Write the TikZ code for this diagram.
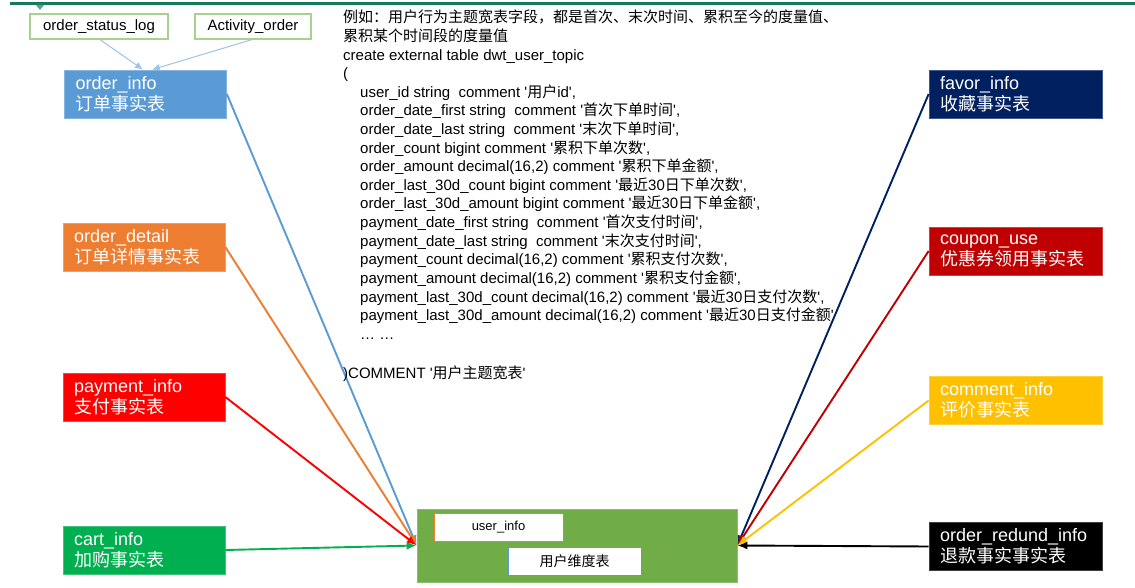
\documentclass[tikz,border=0pt]{standalone}
\usepackage{fontspec}
\setmainfont{Liberation Sans}
\newfontfamily\cjk{Noto Sans CJK SC}
\usetikzlibrary{arrows.meta}
\newcommand\zh[1]{{\cjk #1}}
\newcommand\sq{\textquotesingle}
\definecolor{cblue}{HTML}{5B9BD5}
\definecolor{corange}{HTML}{ED7D31}
\definecolor{cred}{HTML}{FF0000}
\definecolor{cgreen}{HTML}{00B050}
\definecolor{cnavy}{HTML}{002060}
\definecolor{cdred}{HTML}{C00000}
\definecolor{cgold}{HTML}{FFC000}
\definecolor{cmid}{HTML}{70AD47}
\definecolor{clgreen}{HTML}{A9D18E}
\definecolor{clblue}{HTML}{9DC3E6}
\definecolor{cteal}{HTML}{137A5C}
\begin{document}
\begin{tikzpicture}[x=1pt,y=-1pt,
  fact/.style={rectangle, fill=#1, draw=#1!75!white, line width=0.7pt, text=white,
    minimum height=48pt, align=left, inner sep=0pt,
    font=\fontsize{18}{21}\selectfont},
  lfact/.style={fact=#1, minimum width=162pt, text width=140pt},
  rfact/.style={fact=#1, minimum width=173pt, text width=151pt},
  srcbox/.style={rectangle, fill=white, draw=clgreen, line width=1.2pt,
    minimum height=25pt, inner sep=0pt, font=\fontsize{15}{18}\selectfont},
  code/.style={anchor=base west, inner sep=0pt, font=\fontsize{15}{18}\selectfont},
  conn/.style={line width=1.9pt, -{Latex[length=10pt,width=8pt]}},
  srcarrow/.style={line width=1pt, draw=clblue, -{Latex[length=8pt,width=7pt]}}
]
\useasboundingbox (0,0) rectangle (1135,588);
\fill[white] (0,0) rectangle (1135,588);

% top rule
\draw[line width=3pt, cteal] (10,4) -- (1135,4);
\fill[cteal!70!white] (36,5) -- (44,5) -- (40,10) -- cycle;

% source boxes
\node[srcbox, minimum width=138pt] (osl) at (99,26.5) {order\_status\_log};
\node[srcbox, minimum width=116pt] (ao) at (253,26.5) {Activity\_order};

% left fact tables
\node[lfact=cblue]   (oi) at (145.5,94)  {order\_info\\\zh{订单事实表}};
\node[lfact=corange] (od) at (144,247)   {order\_detail\\\zh{订单详情事实表}};
\node[lfact=cred]    (pi) at (144,397)   {payment\_info\\\zh{支付事实表}};
\node[lfact=cgreen]  (ci) at (144,550)   {cart\_info\\\zh{加购事实表}};

% right fact tables
\node[rfact=cnavy]  (fi) at (1015.5,94)    {favor\_info\\\zh{收藏事实表}};
\node[rfact=cdred]  (cu) at (1015.5,251)   {coupon\_use\\\zh{优惠券领用事实表}};
\node[rfact=cgold]  (cm) at (1015.5,400.5) {comment\_info\\\zh{评价事实表}};
\node[rfact=black]  (ri) at (1015.5,546.5) {order\_redund\_info\\\zh{退款事实事实表}};

% central dimension box
\node[rectangle, fill=cmid, draw=cmid!80!white, line width=0.7pt,
  minimum width=320pt, minimum height=73pt, inner sep=0pt] (ub) at (577,545.5) {};
\node[rectangle, fill=white, draw=corange, line width=1pt, minimum width=129pt,
  minimum height=28pt, inner sep=0pt, font=\fontsize{13}{15}\selectfont] (ui) at (498.5,527) {user\_info};
\node[rectangle, fill=white, draw=cblue, line width=1pt, minimum width=133pt,
  minimum height=28pt, inner sep=0pt, font=\fontsize{14}{16}\selectfont] (dm) at (574.5,561) {\zh{用户维度表}};

% connectors
\draw[srcarrow] ([xshift=1pt]osl.south) -- ([xshift=-2.5pt]oi.north);
\draw[srcarrow] ([xshift=-1pt]ao.south) -- ([xshift=6.5pt]oi.north);

\draw[conn, cblue]   (oi.east) -- (ub.west);
\draw[conn, corange] (od.east) -- (ub.west);
\draw[conn, cred]    (pi.east) -- (ub.west);
\draw[conn, cgreen]  (ci.east) -- (ub.west);
\draw[conn, cnavy]   (fi.west) -- (ub.east);
\draw[conn, cdred]   (cu.west) -- (ub.east);
\draw[conn, cgold]   (cm.west) -- (ub.east);
\draw[conn, black]   (ri.west) -- (ub.east);

% SQL text
\node[code] (l1)  at (343,23)    {\zh{例如：用户行为主题宽表字段，都是首次、末次时间、累积至今的度量值、}};
\node[code] (l2)  at (343,41.6)  {\zh{累积某个时间段的度量值}};
\node[code] (l3)  at (343,60.2)  {create external table dwt\_user\_topic};
\node[code] (l4)  at (343,78.8)  {(};
\node[code] (l5)  at (360,97.4)  {user\_id string\ \ comment \sq\zh{用户}id\sq,};
\node[code] (l6)  at (360,116)   {order\_date\_first string\ \ comment \sq\zh{首次下单时间}\sq,};
\node[code] (l7)  at (360,134.6) {order\_date\_last string\ \ comment \sq\zh{末次下单时间}\sq,};
\node[code] (l8)  at (360,153.2) {order\_count bigint comment \sq\zh{累积下单次数}\sq,};
\node[code] (l9)  at (360,171.8) {order\_amount decimal(16,2) comment \sq\zh{累积下单金额}\sq,};
\node[code] (l10) at (360,190.4) {order\_last\_30d\_count bigint comment \sq\zh{最近}30\zh{日下单次数}\sq,};
\node[code] (l11) at (360,209)   {order\_last\_30d\_amount bigint comment \sq\zh{最近}30\zh{日下单金额}\sq,};
\node[code] (l12) at (360,227.6) {payment\_date\_first string\ \ comment \sq\zh{首次支付时间}\sq,};
\node[code] (l13) at (360,246.2) {payment\_date\_last string\ \ comment \sq\zh{末次支付时间}\sq,};
\node[code] (l14) at (360,264.8) {payment\_count decimal(16,2) comment \sq\zh{累积支付次数}\sq,};
\node[code] (l15) at (360,283.4) {payment\_amount decimal(16,2) comment \sq\zh{累积支付金额}\sq,};
\node[code] (l16) at (360,302)   {payment\_last\_30d\_count decimal(16,2) comment \sq\zh{最近}30\zh{日支付次数}\sq,};
\node[code] (l17) at (360,320.6) {payment\_last\_30d\_amount decimal(16,2) comment \sq\zh{最近}30\zh{日支付金额}\sq};
\node[code] (l18) at (360,339.2) {…\ …};
\node[code] (l20) at (343,378)   {)COMMENT \sq\zh{用户主题宽表}\sq};
\end{tikzpicture}
\end{document}
